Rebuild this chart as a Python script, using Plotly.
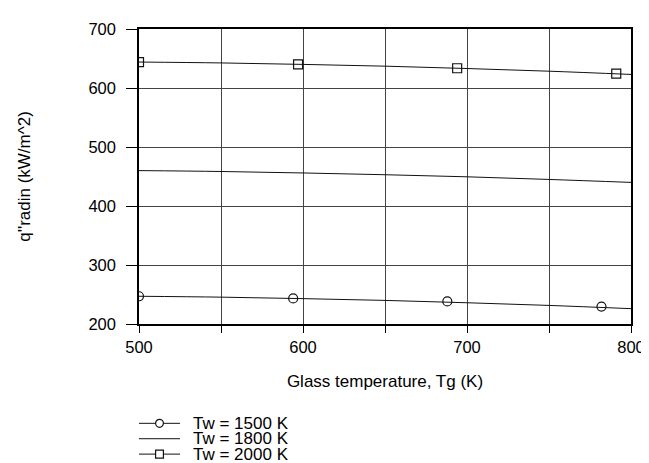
import plotly.graph_objects as go

# Glass temperature (K) for the curves
tg = [500, 550, 600, 650, 700, 750, 800]
q_1500 = [247, 245.5, 243, 240, 236, 231.5, 226]
q_1800 = [460, 458.5, 456, 453, 449.5, 445, 440]
q_2000 = [644, 642.5, 640, 637, 633, 628.5, 623]

# marker positions
tg_m1500 = [500, 594, 688, 782]
q_m1500 = [247, 243.4, 238.3, 229.5]
tg_m2000 = [500, 597, 694, 791]
q_m2000 = [644, 640, 633.5, 624.5]

legend_labels = ["Tw = 1500 K", "Tw = 1800 K", "Tw = 2000 K"]
x_ticks = [500, 600, 700, 800]
y_ticks = [200, 300, 400, 500, 600, 700]

W, H = 649, 463
L, R, T, B = 131, 14, 19, 147
PW, PH = W - L - R, H - T - B
FONT = "Liberation Sans, Arial, sans-serif"
FS = 17
TFS = 16.5
LC = "#111111"

fig = go.Figure()
for ys in (q_1500, q_1800, q_2000):
    fig.add_trace(go.Scatter(x=tg, y=ys, mode="lines", line=dict(color=LC, width=1),
                             line_shape="spline", showlegend=False))
fig.add_trace(go.Scatter(x=tg_m1500, y=q_m1500, mode="markers", showlegend=False,
                         marker=dict(symbol="circle-open", size=9, color=LC, line=dict(width=1.2))))
fig.add_trace(go.Scatter(x=tg_m2000, y=q_m2000, mode="markers", showlegend=False,
                         marker=dict(symbol="square-open", size=9, color=LC, line=dict(width=1.2))))

def px2p(px, py):
    return (px - L) / PW, (H - B - py) / PH

shapes = []
annotations = []
rows = [416, 431.5, 447]
symbols = ["circle", None, "square"]
for lab, ry, sym in zip(legend_labels, rows, symbols):
    x0, y0 = px2p(131, ry)
    x1, _ = px2p(173, ry)
    shapes.append(dict(type="line", xref="paper", yref="paper", x0=x0, x1=x1, y0=y0, y1=y0,
                       line=dict(color=LC, width=1)))
    if sym:
        cx0, cy0 = px2p(148, ry + 4)
        cx1, cy1 = px2p(156, ry - 4)
        shapes.append(dict(type="circle" if sym == "circle" else "rect", xref="paper", yref="paper",
                           x0=cx0, x1=cx1, y0=cy0, y1=cy1, fillcolor="white",
                           line=dict(color=LC, width=1.2)))
    tx, ty = px2p(185, ry)
    annotations.append(dict(text=lab, xref="paper", yref="paper", x=tx, y=ty, xanchor="left",
                            yanchor="middle", showarrow=False, borderpad=0, height=15,
                            font=dict(size=FS, color="black", family=FONT)))

fig.update_layout(
    width=W, height=H, margin=dict(l=L, r=R, t=T, b=B),
    paper_bgcolor="white", plot_bgcolor="white",
    font=dict(family=FONT, size=FS, color="black"),
    shapes=shapes, annotations=annotations,
    xaxis=dict(range=[500, 800], tickvals=x_ticks, ticks="outside", ticklen=7, tickcolor="black",
               tickfont=dict(size=TFS),
               showgrid=True, gridcolor="#444444", gridwidth=1,
               minor=dict(dtick=50, tick0=500, showgrid=True, gridcolor="#444444", gridwidth=1,
                          ticks="outside", ticklen=7, tickcolor="black"),
               showline=True, linecolor="black", linewidth=1.5, mirror=True, zeroline=False,
               ticklabelstandoff=0,
               title=dict(text="Glass temperature, Tg (K)", standoff=21, font=dict(size=FS))),
    yaxis=dict(range=[200, 700], tickvals=y_ticks, ticks="outside", ticklen=11, tickcolor="black",
               tickfont=dict(size=TFS),
               showgrid=True, gridcolor="#444444", gridwidth=1,
               showline=True, linecolor="black", linewidth=1.5, mirror=True, zeroline=False,
               ticklabelstandoff=7,
               title=dict(text="q''radin (kW/m^2)", standoff=53, font=dict(size=FS))),
)

fig.write_html("out.html")
